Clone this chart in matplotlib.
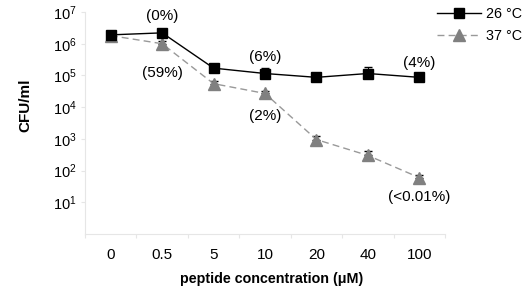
import numpy as np
import matplotlib.pyplot as plt
from matplotlib.lines import Line2D

plt.rcParams['font.family'] = ['Liberation Sans', 'DejaVu Sans']
plt.rcParams['mathtext.fontset'] = 'custom'
plt.rcParams['mathtext.rm'] = 'Liberation Sans'

conc = ['0', '0.5', '5', '10', '20', '40', '100']
cfu_26 = [1.9e6, 2.2e6, 1.7e5, 1.15e5, 8.7e4, 1.15e5, 8.7e4]
err_26 = [4e5, 3e5, 2e4, 6e4, 2e4, 7e4, 3e4]
cfu_37 = [1.8e6, 1.0e6, 5.5e4, 2.7e4, 9.5e2, 3.0e2, 6.0e1]
err_37 = [5e5, 2e5, 1.2e4, 6e3, 3e2, 1.2e2, 1.5e1]

# percentage labels: index -> (text, pixel offset from the marker)
labels_26 = {1: ('(0%)', 17), 3: ('(6%)', 17), 6: ('(4%)', 14)}
labels_37 = {1: ('(59%)', -29), 3: ('(2%)', -23), 6: ('(<0.01%)', -19)}

fig = plt.figure(figsize=(5.29, 2.92), dpi=100)
ax = fig.add_axes([85 / 529, 1 - 234 / 292, 360 / 529, 222 / 292])

x = np.arange(len(conc))
ax.errorbar(x, cfu_37, yerr=[np.zeros(len(x)), err_37], color='#999999',
            ls=(0, (5, 3)), lw=1, marker='^', ms=8.5, mfc='#808080', mec='#808080',
            ecolor='black', elinewidth=0.8, capsize=3, zorder=2)
ax.errorbar(x, cfu_26, yerr=[np.zeros(len(x)), err_26], color='black',
            lw=1, marker='s', ms=7, mfc='black', mec='black',
            ecolor='black', elinewidth=0.8, capsize=3, zorder=3)

for series, vals in [(labels_26, cfu_26), (labels_37, cfu_37)]:
    for i, (t, off) in series.items():
        ax.annotate(t, (x[i], vals[i]), xytext=(0, off * 0.72),
                    textcoords='offset points', ha='center', va='center',
                    fontsize=11)

ax.set_yscale('log')
ax.set_ylim(1, 1e7)
ax.set_yticks([10 ** k for k in range(1, 8)])
ax.set_yticklabels([f'$\\mathregular{{10^{{{k}}}}}$' for k in range(1, 8)])
ax.minorticks_off()
ax.set_xlim(-0.5, len(conc) - 0.5)
ax.set_xticks(np.arange(-0.5, len(conc)))
ax.set_xticklabels([])
for i, c in enumerate(conc):
    ax.text(x[i], -21 / 222, c, transform=ax.get_xaxis_transform(),
            ha='center', va='center', fontsize=11)

for s in ['top', 'right']:
    ax.spines[s].set_visible(False)
for s in ['left', 'bottom']:
    ax.spines[s].set_color('#e6e6e6')
ax.tick_params(axis='both', colors='#e6e6e6', labelcolor='black', length=3)
ax.tick_params(axis='y', pad=3, labelsize=10.5)

ax.set_ylabel('CFU/ml', fontsize=11, fontweight='bold')
ax.yaxis.set_label_coords((32 - 85) / 360, (234 - 105) / 222)
ax.text((272 - 85) / 360, -45 / 222, 'peptide concentration (μM)',
        transform=ax.transAxes, ha='center', va='center',
        fontsize=10.3, fontweight='bold')

handles = [
    Line2D([], [], color='black', lw=1, marker='s', ms=6.5, mfc='black'),
    Line2D([], [], color='#999999', lw=1, ls=(0, (5, 3)), marker='^', ms=8,
           mfc='#808080', mec='#808080'),
]
fig.legend(handles, ['26 °C', '37 °C'], loc='upper left',
           bbox_to_anchor=(434 / 529, 1 - 4 / 292), frameon=False, fontsize=10.3,
           handlelength=3.1, handletextpad=0.35, labelspacing=0.55,
           borderaxespad=0, borderpad=0.2)

fig.savefig('out.png', dpi=100)
